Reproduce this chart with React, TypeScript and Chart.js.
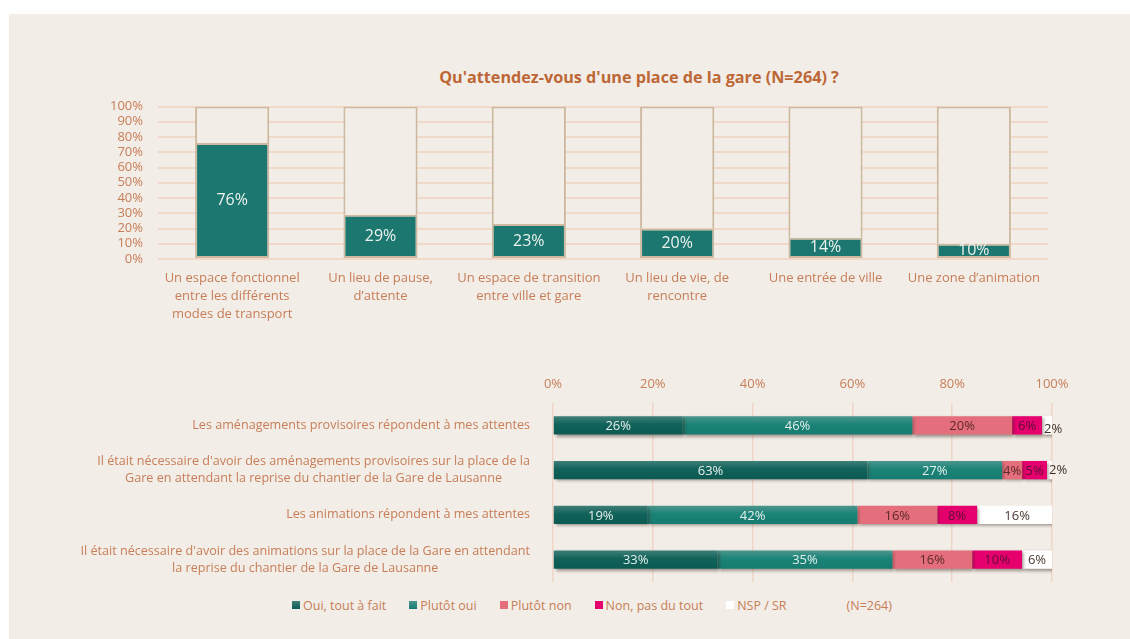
import React, { useEffect, useRef } from 'react';
import { Chart, registerables } from 'chart.js';

Chart.register(...registerables);

const TITLE = "Qu'attendez-vous d'une place de la gare (N=264) ?";

const topCategories: (string | string[])[] = [
  ['Un espace fonctionnel', 'entre les différents', 'modes de transport'],
  ['Un lieu de pause,', 'd’attente'],
  ['Un espace de transition', 'entre ville et gare'],
  ['Un lieu de vie, de', 'rencontre'],
  'Une entrée de ville',
  'Une zone d’animation',
];
const topValues = [76, 29, 23, 20, 14, 10];
const topRemainder = [24, 71, 77, 80, 86, 90];

const bottomCategories: string[][] = [
  ['Les aménagements provisoires répondent à mes attentes'],
  [
    "Il était nécessaire d'avoir des aménagements provisoires sur la place de la",
    'Gare en attendant la reprise du chantier de la Gare de Lausanne',
  ],
  ['Les animations répondent à mes attentes'],
  [
    "Il était nécessaire d'avoir des animations sur la place de la Gare en attendant",
    'la reprise du chantier de la Gare de Lausanne',
  ],
];
const seriesNames = ['Oui, tout à fait', 'Plutôt oui', 'Plutôt non', 'Non, pas du tout', 'NSP / SR'];
const ouiToutAFait = [26, 63, 19, 33];
const plutotOui = [46, 27, 42, 35];
const plutotNon = [20, 4, 16, 16];
const nonPasDuTout = [6, 5, 8, 10];
const nspSr = [2, 2, 16, 6];
const NOTE = '(N=264)';

const FONT = "'Open Sans', sans-serif";
const BG = '#F2EDE7';
const TICK = '#C77E58';
const TITLE_COLOR = '#BD6736';
const TEAL = '#1B776F';
const TAN = '#CDB9A0';

const BAR_PCT = 0.41;

function vGrad(top: string, mid: string, bot: string) {
  return (ctx: any) => {
    const chart = ctx.chart;
    const ys = chart.scales && chart.scales.y;
    if (!chart.chartArea || !ys || ctx.dataIndex == null) return mid;
    const c = ys.getPixelForValue(ctx.dataIndex);
    const h = ((chart.chartArea.height / bottomCategories.length) * BAR_PCT) / 2;
    const g = chart.ctx.createLinearGradient(0, c - h, 0, c + h);
    g.addColorStop(0, top);
    g.addColorStop(0.45, mid);
    g.addColorStop(1, bot);
    return g;
  };
}

const seriesColors = [
  vGrad('#3F7F78', '#10625A', '#0C5A52'),
  vGrad('#4C968E', '#1B8377', '#177B70'),
  '#E46E7C',
  '#E5006E',
  '#FFFFFF',
];
const legendSwatch = [
  'linear-gradient(#3F7F78, #0C5A52)',
  'linear-gradient(#4C968E, #177B70)',
  '#E46E7C',
  '#E5006E',
  '#FFFFFF',
];
const labelColors = ['#E6EFEC', '#E6EFEC', '#5B2B26', '#5E0F33', '#4A3A32'];

const topLabelPlugin = {
  id: 'topLabels',
  afterDraw(chart: any) {
    const ctx = chart.ctx;
    const meta = chart.getDatasetMeta(0);
    ctx.save();
    ctx.font = `16px ${FONT}`;
    ctx.fillStyle = '#EEF2EE';
    ctx.textAlign = 'center';
    ctx.textBaseline = 'middle';
    meta.data.forEach((bar: any, i: number) => {
      const { x, y, base } = bar.getProps(['x', 'y', 'base'], true);
      ctx.fillText(`${topValues[i]}%`, x, (y + base) / 2);
    });
    ctx.restore();
  },
};

const shadowPlugin = {
  id: 'barShadow',
  beforeDatasetsDraw(chart: any) {
    const c = chart.ctx;
    c.save();
    c.shadowColor = 'rgba(50,35,25,0.45)';
    c.shadowBlur = 3;
    c.shadowOffsetX = 2;
    c.shadowOffsetY = 2;
  },
  afterDatasetsDraw(chart: any) {
    chart.ctx.restore();
  },
};

const bottomLabelPlugin = {
  id: 'bottomLabels',
  afterDraw(chart: any) {
    const ctx = chart.ctx;
    ctx.save();
    ctx.font = `13px ${FONT}`;
    ctx.textBaseline = 'middle';
    chart.data.datasets.forEach((ds: any, d: number) => {
      const meta = chart.getDatasetMeta(d);
      meta.data.forEach((bar: any, i: number) => {
        const v = ds.data[i];
        const { x, y, base } = bar.getProps(['x', 'y', 'base'], true);
        if (v <= 2) {
          ctx.textAlign = 'left';
          ctx.fillStyle = '#3E3028';
          ctx.fillText(`${v}%`, base + 2, y + (i === 0 ? 4 : 0));
        } else {
          ctx.textAlign = 'center';
          ctx.fillStyle = labelColors[d];
          ctx.fillText(`${v}%`, (x + base) / 2, y + 1);
        }
      });
    });
    // category labels (right-aligned blocks, centred lines)
    const ys = chart.scales.y;
    const right = chart.chartArea.left - 23;
    const lh = 16.6;
    ctx.font = `12.6px ${FONT}`;
    ctx.fillStyle = TICK;
    ctx.textAlign = 'center';
    bottomCategories.forEach((lines, i) => {
      const cy = ys.getPixelForValue(i);
      const w = Math.max(...lines.map((l) => ctx.measureText(l).width));
      const cx = right - w / 2;
      lines.forEach((l, j) => {
        ctx.fillText(l, cx, cy + (j - (lines.length - 1) / 2) * lh);
      });
    });
    ctx.restore();
  },
};

export default function App() {
  const topRef = useRef<HTMLCanvasElement>(null);
  const botRef = useRef<HTMLCanvasElement>(null);

  useEffect(() => {
    Chart.defaults.font.family = FONT;
    const top = new Chart(topRef.current!, {
      type: 'bar',
      data: {
        labels: topCategories,
        datasets: [
          {
            label: 'Oui',
            data: topValues,
            backgroundColor: TEAL,
            borderColor: TAN,
            borderWidth: 2,
            borderSkipped: false,
            barPercentage: 0.5,
            categoryPercentage: 1,
          },
          {
            label: 'Reste',
            data: topRemainder,
            backgroundColor: BG,
            borderColor: TAN,
            borderWidth: 2,
            borderSkipped: 'start',
            barPercentage: 0.5,
            categoryPercentage: 1,
          },
        ],
      },
      options: {
        responsive: false,
        animation: false,
        layout: { padding: { top: 10, right: 82, left: 0, bottom: 0 } },
        plugins: { legend: { display: false }, title: { display: false }, tooltip: { enabled: false } },
        scales: {
          x: {
            stacked: true,
            grid: { display: false, drawTicks: false },
            border: { display: false },
            ticks: { color: TICK, font: { size: 13, lineHeight: 1.385 }, padding: 10, maxRotation: 0, autoSkip: false },
            afterFit: (s: any) => {
              s.height = 70;
            },
          },
          y: {
            stacked: true,
            min: 0,
            max: 100,
            grid: { color: '#F1D9CA', lineWidth: 2, drawTicks: false },
            border: { display: false },
            ticks: {
              stepSize: 10,
              callback: (v: any) => `${v}%`,
              color: TICK,
              font: { size: 13, lineHeight: 1 },
              padding: 15,
              autoSkip: false,
            },
            afterFit: (s: any) => {
              s.width = 149;
            },
          },
        },
      } as any,
      plugins: [topLabelPlugin],
    });

    const seriesData = [ouiToutAFait, plutotOui, plutotNon, nonPasDuTout, nspSr];
    const bot = new Chart(botRef.current!, {
      type: 'bar',
      data: {
        labels: bottomCategories,
        datasets: seriesNames.map((name, k) => ({
          label: name,
          data: seriesData[k],
          backgroundColor: seriesColors[k] as any,
          borderWidth: 0,
          barPercentage: BAR_PCT,
          categoryPercentage: 1,
        })),
      },
      options: {
        indexAxis: 'y',
        responsive: false,
        animation: false,
        layout: { padding: { top: 0, right: 78, left: 0, bottom: 8 } },
        plugins: { legend: { display: false }, title: { display: false }, tooltip: { enabled: false } },
        scales: {
          x: {
            stacked: true,
            position: 'top',
            min: 0,
            max: 100,
            grid: { color: '#EFD5C8', lineWidth: 1.5, drawTicks: false },
            border: { display: false },
            ticks: {
              stepSize: 20,
              callback: (v: any) => `${v}%`,
              color: TICK,
              font: { size: 13, lineHeight: 1 },
              padding: 12,
              autoSkip: false,
            },
            afterFit: (s: any) => {
              s.height = 38;
            },
          },
          y: {
            stacked: true,
            grid: { display: false, drawTicks: false },
            border: { display: false },
            ticks: { display: false },
            afterFit: (s: any) => {
              s.width = 544;
            },
          },
        },
      } as any,
      plugins: [shadowPlugin, bottomLabelPlugin],
    });

    return () => {
      top.destroy();
      bot.destroy();
    };
  }, []);

  return (
    <div
      style={{
        position: 'absolute',
        left: 0,
        top: 0,
        width: 1130,
        height: 639,
        overflow: 'hidden',
        fontFamily: FONT,
        background: '#FFFFFF',
      }}
    >
      <div style={{ position: 'absolute', left: 9, top: 14, right: 0, bottom: 0, background: BG }} />
      <div
        style={{
          position: 'absolute',
          left: 639,
          top: 66,
          transform: 'translateX(-50%)',
          whiteSpace: 'nowrap',
          fontSize: 16.2,
          lineHeight: '22px',
          fontWeight: 700,
          color: TITLE_COLOR,
        }}
      >
        {TITLE}
      </div>
      <canvas ref={topRef} width={1121} height={244} style={{ position: 'absolute', left: 9, top: 85 }} />
      <canvas ref={botRef} width={1121} height={225} style={{ position: 'absolute', left: 9, top: 365 }} />
      <div
        style={{
          position: 'absolute',
          left: 292,
          top: 597,
          height: 16,
          display: 'flex',
          alignItems: 'center',
          fontSize: 12.5,
          color: TICK,
          whiteSpace: 'nowrap',
        }}
      >
        {seriesNames.map((n, k) => (
          <div key={n} style={{ display: 'flex', alignItems: 'center', marginRight: 23 }}>
            <span style={{ width: 8, height: 8, background: legendSwatch[k], marginRight: 3, display: 'inline-block' }} />
            <span>{n}</span>
          </div>
        ))}
        <span style={{ marginLeft: 37 }}>{NOTE}</span>
      </div>
    </div>
  );
}
